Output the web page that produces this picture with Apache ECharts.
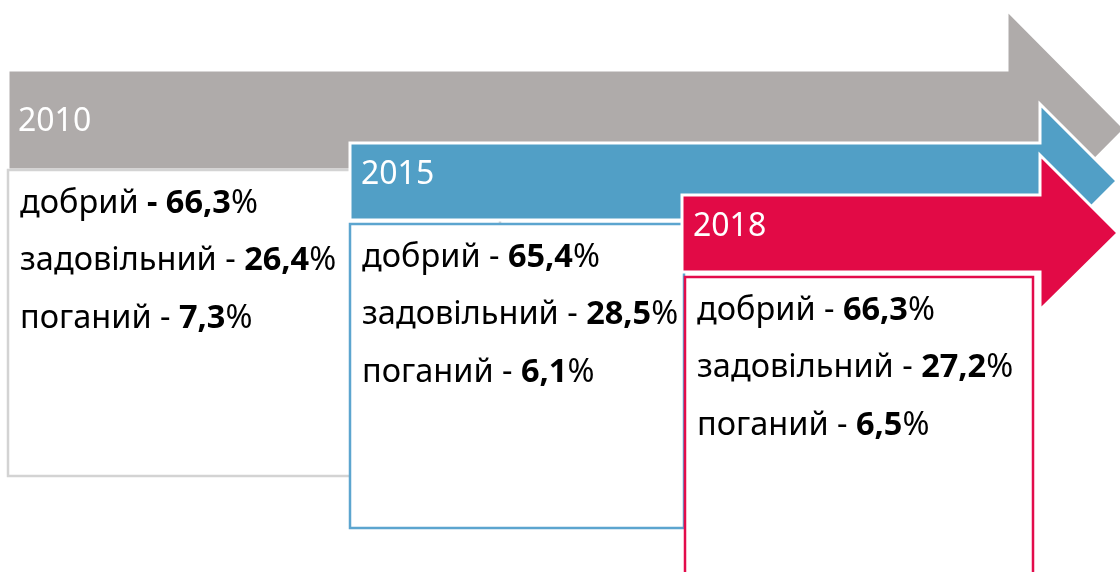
<!DOCTYPE html>
<html>
<head>
<meta charset="utf-8">
<script src="https://cdn.jsdelivr.net/npm/echarts@6/dist/echarts.min.js"></script>
<style>
  html, body { margin: 0; padding: 0; background: #fff; }
  #main { width: 1120px; height: 572px; }
</style>
</head>
<body>
<div id="main"></div>
<script>
// дані
const years = ['2010', '2015', '2018'];
const ratingLabels = ['добрий', 'задовільний', 'поганий'];
const good = [66.3, 65.4, 66.3];
const satisfactory = [26.4, 28.5, 27.2];
const poor = [7.3, 6.1, 6.5];

// розмітка стрілок і карток (пікселі)
const colors = ['#afabaa', '#519fc6', '#e20a46'];
const borders = ['#d3d3d3', '#5ca5cf', '#e30b4b'];
const layout = [
  { x0: 8,   top: 70,  bot: 170, hx: 1007, hTop: 10,  tip: [1125, 129], hBot: 248, yearY: 122, yearX: 18,
    box: [8, 170, 500, 476], textX: 20 },
  { x0: 350, top: 143, bot: 220, hx: 1040, hTop: 104, tip: [1117, 181], hBot: 258, yearY: 175, yearX: 361,
    box: [350, 224, 684, 528], textX: 362 },
  { x0: 682, top: 195, bot: 272, hx: 1040, hTop: 155, tip: [1118, 233], hBot: 310, yearY: 227, yearX: 693,
    box: [685, 277, 1033, 620], textX: 697 }
];
const rowOffsets = [34, 91, 149];
const FONT = 'Noto Sans';
const FS = 32.5;
const YEAR_FS = 32;

function fmt(v) { return v.toFixed(1).replace('.', ','); }

function renderItem(params, api) {
  const i = params.dataIndex;
  const L = layout[i];
  const c = p => api.coord(p);
  const pts = [
    [L.x0, L.top], [L.hx, L.top], [L.hx, L.hTop], L.tip,
    [L.hx, L.hBot], [L.hx, L.bot], [L.x0, L.bot]
  ].map(c);
  const b0 = c([L.box[0], L.box[1]]);
  const b1 = c([L.box[2], L.box[3]]);
  const yp = c([L.yearX, L.yearY]);
  const vals = [good[i], satisfactory[i], poor[i]];
  const children = [
    { type: 'polygon', z2: i * 10, shape: { points: pts },
      style: { fill: colors[i], stroke: '#fff', lineWidth: 3 } },
    { type: 'rect', z2: i * 10 + 1,
      shape: { x: b0[0], y: b0[1], width: b1[0] - b0[0], height: b1[1] - b0[1] },
      style: { fill: '#fff', stroke: borders[i], lineWidth: 2.5 } },
    { type: 'text', z2: i * 10 + 2, x: yp[0], y: yp[1],
      style: { text: years[i], fill: '#fff', fontSize: YEAR_FS, fontFamily: FONT,
               align: 'left', verticalAlign: 'middle' } }
  ];
  ratingLabels.forEach((lab, k) => {
    const p = c([L.textX, L.box[1] + rowOffsets[k]]);
    // у першій картці тире теж жирне
    const txt = (i === 0 && k === 0)
      ? '{n|' + lab + ' }{b|- ' + fmt(vals[k]) + '}{n|%}'
      : '{n|' + lab + ' - }{b|' + fmt(vals[k]) + '}{n|%}';
    children.push({
      type: 'text', z2: i * 10 + 3, x: p[0], y: p[1],
      style: {
        text: txt, align: 'left', verticalAlign: 'middle',
        rich: {
          n: { fontSize: FS, fontFamily: FONT, fill: '#000' },
          b: { fontSize: FS, fontFamily: FONT, fontWeight: 'bold', fill: '#000' }
        }
      }
    });
  });
  return { type: 'group', children: children };
}

const chart = echarts.init(document.getElementById('main'));
chart.setOption({
  animation: false,
  grid: { left: 0, right: 0, top: 0, bottom: 0 },
  xAxis: { type: 'value', min: 0, max: 1120, show: false },
  yAxis: { type: 'value', min: 0, max: 572, inverse: true, show: false },
  series: [{
    type: 'custom',
    coordinateSystem: 'cartesian2d',
    renderItem: renderItem,
    clip: false,
    data: years.map((y, i) => [i, 0])
  }]
});
</script>
</body>
</html>
